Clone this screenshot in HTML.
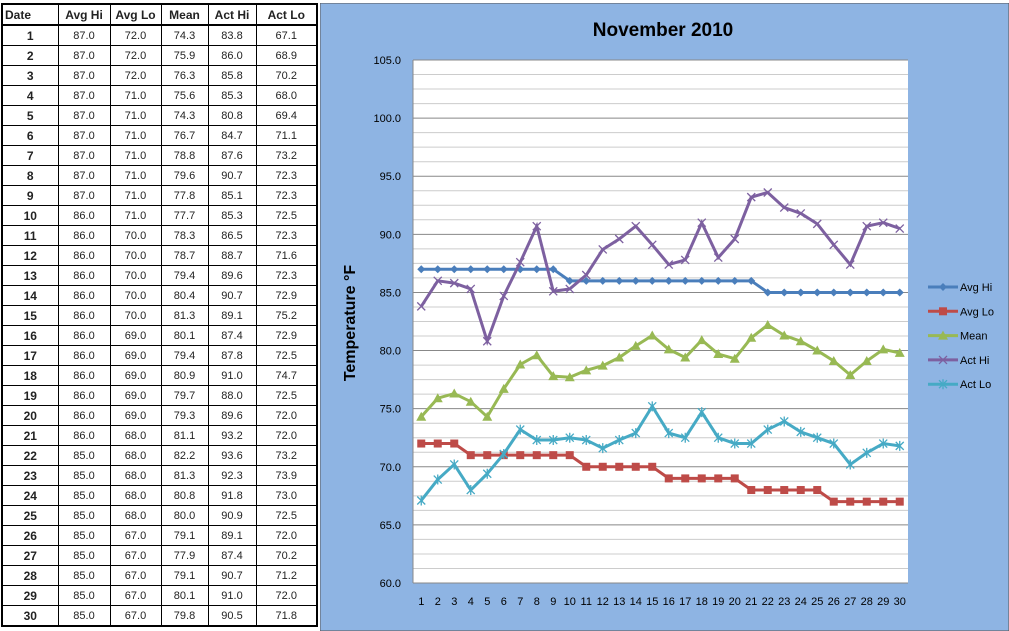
<!DOCTYPE html>
<html><head><meta charset="utf-8"><style>
body{margin:0;width:1009px;height:631px;overflow:hidden;background:#fff;font-family:"Liberation Sans",sans-serif;position:relative}
table{position:absolute;left:1px;top:3px;border-collapse:collapse;border:2px solid #000}
td{border:1px solid #000;height:19px;padding:0;font-size:11px;text-align:center;color:#222}
td.d{font-weight:bold;font-size:12px}
tr.h td{font-weight:bold;font-size:12px;border-bottom:2px solid #000}
tr.h td:first-child{text-align:left;padding-left:2px}
#chart{position:absolute;left:320px;top:3px}
</style></head><body>
<table id="tbl">
<colgroup><col style="width:56px"><col style="width:52px"><col style="width:51px"><col style="width:47px"><col style="width:48px"><col style="width:61px"></colgroup>
<tr class="h"><td>Date</td><td>Avg Hi</td><td>Avg Lo</td><td>Mean</td><td>Act Hi</td><td>Act Lo</td></tr>
</table>
<svg id="chart" width="689" height="628">
<rect x="0" y="0" width="689" height="628" fill="#8eb4e3" stroke="#555"/>
<text x="343" y="33" font-size="19" font-weight="bold" text-anchor="middle">November 2010</text>
<text transform="translate(35,320) rotate(-90)" font-size="16" font-weight="bold" text-anchor="middle">Temperature °F</text>
<rect x="93" y="57" width="495" height="523" fill="#fff"/>
<g id="grid"></g><g id="series"></g><g id="legend"></g>
</svg>
<script>
const days=[1,2,3,4,5,6,7,8,9,10,11,12,13,14,15,16,17,18,19,20,21,22,23,24,25,26,27,28,29,30];
const avgHi=[87,87,87,87,87,87,87,87,87,86,86,86,86,86,86,86,86,86,86,86,86,85,85,85,85,85,85,85,85,85];
const avgLo=[72,72,72,71,71,71,71,71,71,71,70,70,70,70,70,69,69,69,69,69,68,68,68,68,68,67,67,67,67,67];
const mean=[74.3,75.9,76.3,75.6,74.3,76.7,78.8,79.6,77.8,77.7,78.3,78.7,79.4,80.4,81.3,80.1,79.4,80.9,79.7,79.3,81.1,82.2,81.3,80.8,80.0,79.1,77.9,79.1,80.1,79.8];
const actHi=[83.8,86.0,85.8,85.3,80.8,84.7,87.6,90.7,85.1,85.3,86.5,88.7,89.6,90.7,89.1,87.4,87.8,91.0,88.0,89.6,93.2,93.6,92.3,91.8,90.9,89.1,87.4,90.7,91.0,90.5];
const actLo=[67.1,68.9,70.2,68.0,69.4,71.1,73.2,72.3,72.3,72.5,72.3,71.6,72.3,72.9,75.2,72.9,72.5,74.7,72.5,72.0,72.0,73.2,73.9,73.0,72.5,72.0,70.2,71.2,72.0,71.8];
const yTicks=[60,65,70,75,80,85,90,95,100,105];
const NS="http://www.w3.org/2000/svg";
const tbl=document.getElementById('tbl');
days.forEach((d,i)=>{const tr=document.createElement('tr');


[d,avgHi[i],avgLo[i],mean[i],actHi[i],actLo[i]].forEach((v,j)=>{const td=document.createElement('td');
td.textContent=j==0?v:v.toFixed(1);if(j==0)td.className='d';tr.appendChild(td);});tbl.appendChild(tr);});
const X0=93,W=495,Y0=580,H=523;
const xs=i=>X0+W/30*(i+0.5);
const ys=v=>Y0-(v-60)/45*H;
function el(t,a,p){const e=document.createElementNS(NS,t);for(const k in a)e.setAttribute(k,a[k]);p.appendChild(e);return e;}
const grid=document.getElementById('grid');
for(let v=60;v<=105;v+=1.25){const l=el('line',{x1:X0,x2:X0+W,y1:ys(v),y2:ys(v),stroke:Math.abs(v%5)<0.01?'#888':'#ccc','stroke-width':1},grid);

}
el('line',{x1:X0,x2:X0,y1:Y0,y2:Y0-H,stroke:'#888'},grid);
yTicks.forEach(v=>{const t=el('text',{x:X0-12,y:ys(v)+4,'font-size':11,'text-anchor':'end'},grid);t.textContent=v.toFixed(1);

});
days.forEach((d,i)=>{const t=el('text',{x:xs(i),y:Y0+22,'font-size':11,'text-anchor':'middle'},grid);t.textContent=d;

});
const series=[['Avg Hi',avgHi,'#4a7ebb','diamond'],['Avg Lo',avgLo,'#be4b48','square'],['Mean',mean,'#98b954','triangle'],['Act Hi',actHi,'#7d60a0','x'],['Act Lo',actLo,'#46aac5','star']];
function marker(g,type,x,y,c){
if(type=='diamond')el('path',{d:`M${x} ${y-4}L${x+4} ${y}L${x} ${y+4}L${x-4} ${y}Z`,fill:c},g);
else if(type=='square')el('rect',{x:x-4,y:y-4,width:8,height:8,fill:c},g);
else if(type=='triangle')el('path',{d:`M${x} ${y-5}L${x+5} ${y+4}L${x-5} ${y+4}Z`,fill:c},g);
else if(type=='x')el('path',{d:`M${x-4} ${y-4}L${x+4} ${y+4}M${x-4} ${y+4}L${x+4} ${y-4}`,stroke:c,'stroke-width':1.3},g);
else el('path',{d:`M${x-4} ${y-4}L${x+4} ${y+4}M${x-4} ${y+4}L${x+4} ${y-4}M${x} ${y-5}L${x} ${y+5}`,stroke:c,'stroke-width':1.3},g);}
const sg=document.getElementById('series'),lg=document.getElementById('legend');
series.forEach(([name,vals,c,m],k)=>{const g=el('g',{},sg);


el('polyline',{points:vals.map((v,i)=>xs(i)+','+ys(v)).join(' '),fill:'none',stroke:c,'stroke-width':3},g);
vals.forEach((v,i)=>marker(g,m,xs(i),ys(v),c));
const ly=284+k*24.3;const lgE=el('g',{},lg);


el('line',{x1:608,x2:638,y1:ly,y2:ly,stroke:c,'stroke-width':3},lgE);marker(lgE,m,623,ly,c);
const t=el('text',{x:640,y:ly+4,'font-size':11},lgE);t.textContent=name;});
</script>
</body></html>
